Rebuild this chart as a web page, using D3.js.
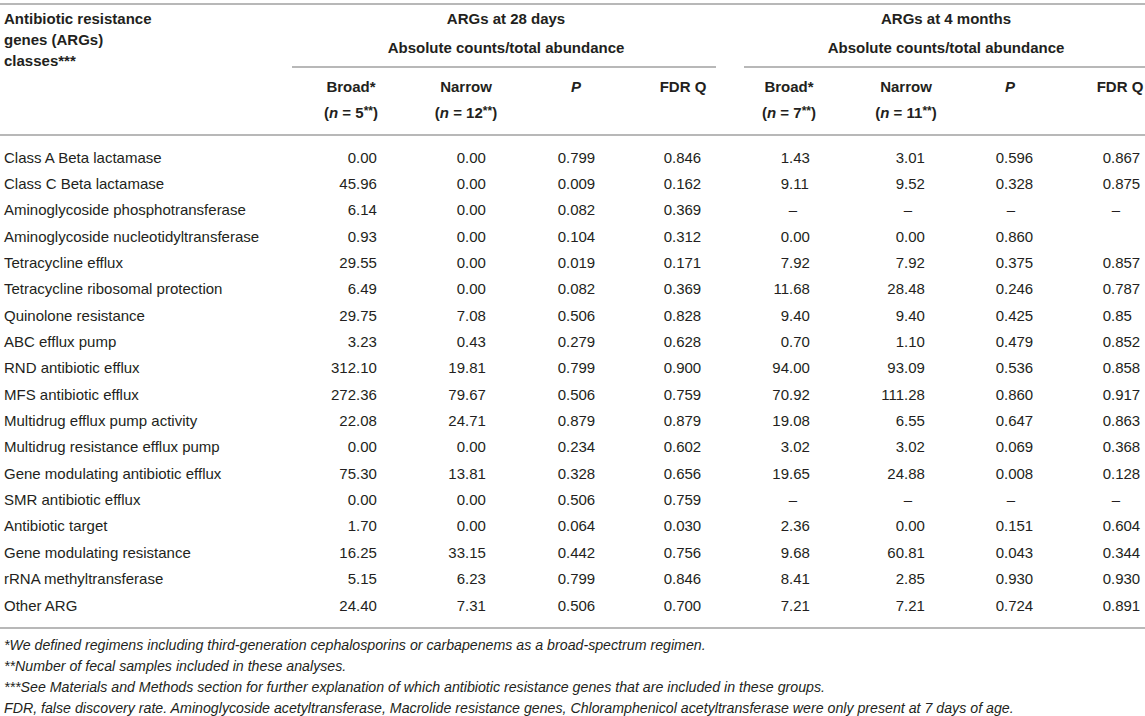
<!DOCTYPE html>
<html><head><meta charset="utf-8">
<script src="https://cdn.jsdelivr.net/npm/d3@7"></script>
<style>
body{margin:0;background:#fff}
svg{display:block}
text{font-family:"Liberation Sans",Arial,Helvetica,sans-serif;fill:#231f20}
</style>
</head><body>
<svg id="c" width="1145" height="716"></svg>
<script>
// ---------- data ----------
const categories = [
  "Class A Beta lactamase","Class C Beta lactamase","Aminoglycoside phosphotransferase",
  "Aminoglycoside nucleotidyltransferase","Tetracycline efflux","Tetracycline ribosomal protection",
  "Quinolone resistance","ABC efflux pump","RND antibiotic efflux","MFS antibiotic efflux",
  "Multidrug efflux pump activity","Multidrug resistance efflux pump","Gene modulating antibiotic efflux",
  "SMR antibiotic efflux","Antibiotic target","Gene modulating resistance","rRNA methyltransferase","Other ARG"
];
const broad28  = ["0.00","45.96","6.14","0.93","29.55","6.49","29.75","3.23","312.10","272.36","22.08","0.00","75.30","0.00","1.70","16.25","5.15","24.40"];
const narrow28 = ["0.00","0.00","0.00","0.00","0.00","0.00","7.08","0.43","19.81","79.67","24.71","0.00","13.81","0.00","0.00","33.15","6.23","7.31"];
const p28      = ["0.799","0.009","0.082","0.104","0.019","0.082","0.506","0.279","0.799","0.506","0.879","0.234","0.328","0.506","0.064","0.442","0.799","0.506"];
const fdr28    = ["0.846","0.162","0.369","0.312","0.171","0.369","0.828","0.628","0.900","0.759","0.879","0.602","0.656","0.759","0.030","0.756","0.846","0.700"];
const broad4m  = ["1.43","9.11",null,"0.00","7.92","11.68","9.40","0.70","94.00","70.92","19.08","3.02","19.65",null,"2.36","9.68","8.41","7.21"];
const narrow4m = ["3.01","9.52",null,"0.00","7.92","28.48","9.40","1.10","93.09","111.28","6.55","3.02","24.88",null,"0.00","60.81","2.85","7.21"];
const p4m      = ["0.596","0.328",null,"0.860","0.375","0.246","0.425","0.479","0.536","0.860","0.647","0.069","0.008",null,"0.151","0.043","0.930","0.724"];
const fdr4m    = ["0.867","0.875",null,"","0.857","0.787","0.85","0.852","0.858","0.917","0.863","0.368","0.128",null,"0.604","0.344","0.930","0.891"];

const stubHeader = ["Antibiotic resistance","genes (ARGs)","classes***"];
const groupTitles = ["ARGs at 28 days","ARGs at 4 months"];
const groupSub = "Absolute counts/total abundance";
const colNames = ["Broad*","Narrow","P","FDR Q","Broad*","Narrow","P","FDR Q"];
const nLabels = ["5","12",null,null,"7","11",null,null];
const footnotes = [
  "*We defined regimens including third-generation cephalosporins or carbapenems as a broad-spectrum regimen.",
  "**Number of fecal samples included in these analyses.",
  "***See Materials and Methods section for further explanation of which antibiotic resistance genes that are included in these groups.",
  "FDR, false discovery rate. Aminoglycoside acetyltransferase, Macrolide resistance genes, Chloramphenicol acetyltransferase were only present at 7 days of age."
];

// ---------- layout ----------
const svg = d3.select("#c");
const ruleColor = "#b8b8b8";
const FS = 15;
const columns = [broad28, narrow28, p28, fdr28, broad4m, narrow4m, p4m, fdr4m];
const colKeys = d3.range(8);
const decX  = d3.scaleOrdinal().domain(colKeys).range([356, 465, 566, 672, 789, 904, 1004, 1111]);
const hdrX  = d3.scaleOrdinal().domain(colKeys).range([351, 466, 576, 683, 789, 906, 1010, 1120]);
const dashX = d3.scaleOrdinal().domain(colKeys).range([360, 470, 576, 683, 793, 908, 1011, 1116]);
const y = d3.scalePoint().domain(categories).range([157, 605]);

function rule(x1, x2, yy) {
  svg.append("line").attr("x1", x1).attr("x2", x2).attr("y1", yy).attr("y2", yy)
    .attr("stroke", ruleColor).attr("stroke-width", 2);
}
rule(0, 1145, 4);
rule(0, 1145, 135);
rule(0, 1145, 628);
const spans = [[292, 716], [744, 1145]];
spans.forEach(s => rule(s[0], s[1], 67));

// stub header
svg.selectAll("text.stub").data(stubHeader).join("text").attr("class", "stub")
  .attr("x", 4).attr("y", (d, i) => 24 + i * 21).attr("font-size", FS).attr("font-weight", "bold").text(d => d);

// group headers
groupTitles.forEach((t, g) => {
  const cx = g === 0 ? 506 : 946;
  svg.append("text").attr("x", cx).attr("y", 24).attr("text-anchor", "middle")
    .attr("font-size", FS).attr("font-weight", "bold").text(t);
  svg.append("text").attr("x", cx).attr("y", 53).attr("text-anchor", "middle")
    .attr("font-size", FS).attr("font-weight", "bold").text(groupSub);
});

// column headers
colKeys.forEach(k => {
  const t = svg.append("text").attr("x", hdrX(k)).attr("y", 92).attr("text-anchor", "middle")
    .attr("font-size", FS).attr("font-weight", "bold");
  if (colNames[k] === "P") t.attr("font-style", "italic");
  t.text(colNames[k]);
  if (nLabels[k]) {
    const n = svg.append("text").attr("x", hdrX(k)).attr("y", 118).attr("text-anchor", "middle")
      .attr("font-size", FS).attr("font-weight", "bold");
    n.append("tspan").text("(");
    n.append("tspan").attr("font-style", "italic").text("n");
    n.append("tspan").text(" = " + nLabels[k]);
    n.append("tspan").attr("font-size", 12).attr("dy", -3).text("**");
    n.append("tspan").attr("dy", 3).text(")");
  }
});

// stub rows
svg.selectAll("text.cat").data(categories).join("text").attr("class", "cat")
  .attr("x", 4).attr("y", d => y(d) + 5.5).attr("font-size", FS).text(d => d);

// values (decimal aligned)
columns.forEach((arr, k) => {
  arr.forEach((v, i) => {
    const yy = y(categories[i]) + 5.5;
    if (v === null) {
      svg.append("text").attr("x", dashX(k)).attr("y", yy).attr("text-anchor", "middle")
        .attr("font-size", FS).text("\u2013");
    } else if (v !== "") {
      const [ip, fp] = v.split(".");
      svg.append("text").attr("x", decX(k)).attr("y", yy).attr("text-anchor", "end")
        .attr("font-size", FS).text(ip);
      svg.append("text").attr("x", decX(k)).attr("y", yy).attr("text-anchor", "start")
        .attr("font-size", FS).text("." + fp);
    }
  });
});

// footnotes
svg.selectAll("text.fn").data(footnotes).join("text").attr("class", "fn")
  .attr("x", 4).attr("y", (d, i) => 650 + i * 21).attr("font-size", 14.2).attr("font-style", "italic")
  .text(d => d);
</script>
</body></html>
